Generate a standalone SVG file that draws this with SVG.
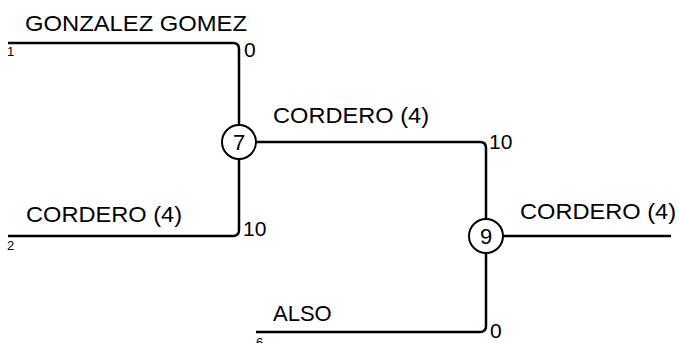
<svg xmlns="http://www.w3.org/2000/svg" width="679" height="343" viewBox="0 0 679 343">
<style>
.ln{fill:none;stroke:#000;stroke-width:2.5}
.nd{fill:#fff;stroke:#000;stroke-width:2}
.t{font-family:"Liberation Sans",Arial,sans-serif;font-size:22px;fill:#000}
.n{font-family:"Liberation Sans",Arial,sans-serif;font-size:21px;fill:#000}
.s{font-family:"Liberation Sans",Arial,sans-serif;font-size:13px;fill:#000}
</style>
<rect width="679" height="343" fill="#fff"/>
<g id="connectors">
<path class="ln" d="M8,43 H233 Q239,43 239,49 V125"/>
<path class="ln" d="M8,236 H233 Q239,236 239,230 V159"/>
<path class="ln" d="M256,142 H480 Q486,142 486,148 V219"/>
<path class="ln" d="M256,332 H480 Q486,332 486,326 V253"/>
<path class="ln" d="M503,236 H671"/>
</g>
<g id="team1">
<text class="t" x="25" y="31" textLength="222" lengthAdjust="spacingAndGlyphs">GONZALEZ GOMEZ</text>
<text class="s" x="7" y="56">1</text>
<text class="n" x="244" y="57">0</text>
</g>
<g id="team2">
<text class="t" x="26" y="222" textLength="156" lengthAdjust="spacingAndGlyphs">CORDERO (4)</text>
<text class="s" x="7" y="250">2</text>
<text class="n" x="243" y="236">10</text>
</g>
<g id="team6">
<text class="t" x="273" y="321">ALSO</text>
<text class="s" x="256" y="347">6</text>
<text class="n" x="490" y="338">0</text>
</g>
<g id="node7">
<circle class="nd" cx="239" cy="142" r="17"/>
<text class="t" x="239" y="150" text-anchor="middle">7</text>
<text class="t" x="273" y="123" textLength="156" lengthAdjust="spacingAndGlyphs">CORDERO (4)</text>
<text class="n" x="489" y="149">10</text>
</g>
<g id="node9">
<circle class="nd" cx="486" cy="236" r="17"/>
<text class="t" x="486" y="244" text-anchor="middle">9</text>
<text class="t" x="520" y="219" textLength="156" lengthAdjust="spacingAndGlyphs">CORDERO (4)</text>
</g>
</svg>
